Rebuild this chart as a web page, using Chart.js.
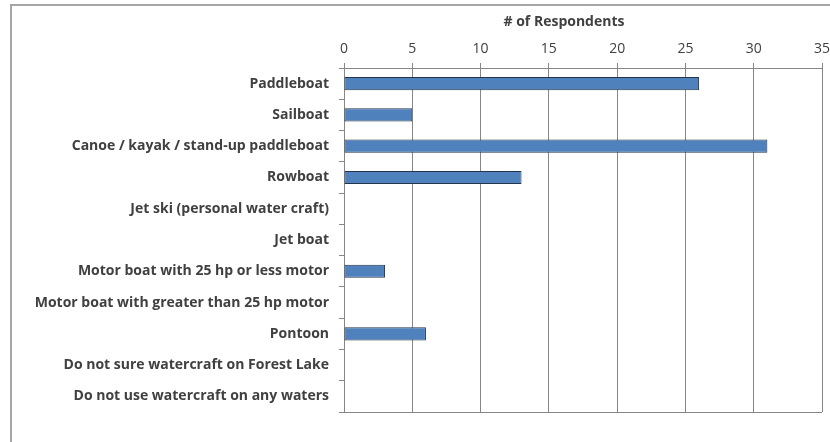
<!DOCTYPE html>
<html>
<head>
<meta charset="utf-8">
<script src="https://cdn.jsdelivr.net/npm/chart.js@4.4.0/dist/chart.umd.min.js"></script>
<style>
    html, body { margin: 0; padding: 0; background: #fff; }
    #wrap { position: relative; width: 830px; height: 442px; overflow: hidden; }
    #frame {
        position: absolute; left: 10px; top: 4px; width: 900px; height: 500px;
        border: 2px solid #a6a6a6; box-sizing: border-box;
    }
    canvas { position: absolute; left: 0; top: 0; }
</style>
</head>
<body>
<div id="wrap">
    <div id="frame"></div>
    <canvas id="chart" width="830" height="442"></canvas>
</div>
<script>
const categories = [
    "Paddleboat",
    "Sailboat",
    "Canoe / kayak / stand-up paddleboat",
    "Rowboat",
    "Jet ski (personal water craft)",
    "Jet boat",
    "Motor boat with 25 hp or less motor",
    "Motor boat with greater than 25 hp motor",
    "Pontoon",
    "Do not sure watercraft on Forest Lake",
    "Do not use watercraft on any waters"
];
const respondents = [26, 5, 31, 13, 0, 0, 3, 0, 6, 0, 0];
const axisTitle = "# of Respondents";
const axisMin = 0;
const axisMax = 35;
const axisStep = 5;

const gray = "#868686";
const textColor = "#404040";
const fontFamily = "'Open Sans', sans-serif";

// Axis title sits left of the plot centre in the original, so draw it here
const titlePlugin = {
    id: "axisTitle",
    afterDraw(chart) {
        const c = chart.ctx;
        c.save();
        c.font = "bold 14px " + fontFamily;
        c.fillStyle = textColor;
        c.textAlign = "center";
        c.textBaseline = "middle";
        c.fillText(axisTitle, 564, 22);
        c.restore();
    }
};

new Chart(document.getElementById("chart").getContext("2d"), {
    type: "bar",
    data: {
        labels: categories,
        datasets: [{
            data: respondents,
            backgroundColor: "#4f81bd",
            borderColor: "#24344a",
            borderWidth: 1,
            borderSkipped: false,
            categoryPercentage: 1,
            barPercentage: 0.42
        }]
    },
    options: {
        indexAxis: "y",
        responsive: false,
        animation: false,
        layout: { padding: { left: 0, right: 8, top: 0, bottom: 30 } },
        plugins: {
            legend: { display: false },
            tooltip: { enabled: false }
        },
        scales: {
            x: {
                position: "top",
                min: axisMin,
                max: axisMax,
                afterFit: s => { s.height = 68; s.paddingLeft = 0; s.paddingRight = 0; },
                ticks: {
                    stepSize: axisStep,
                    padding: 6,
                    color: textColor,
                    font: { family: fontFamily, size: 14 }
                },
                grid: { color: gray, tickLength: 5, tickColor: gray },
                border: { color: gray, width: 1 }
            },
            y: {
                afterFit: s => { s.width = 344; },
                ticks: {
                    padding: 10,
                    color: textColor,
                    font: { family: fontFamily, size: 14, weight: "bold" }
                },
                grid: {
                    offset: true,
                    tickLength: 5,
                    tickColor: gray,
                    // only the closing line at the bottom crosses the plot
                    color: ctx => ctx.type === "scale" ? gray : "rgba(0,0,0,0)"
                },
                border: { color: gray, width: 1 }
            }
        }
    },
    plugins: [titlePlugin]
});
</script>
</body>
</html>
